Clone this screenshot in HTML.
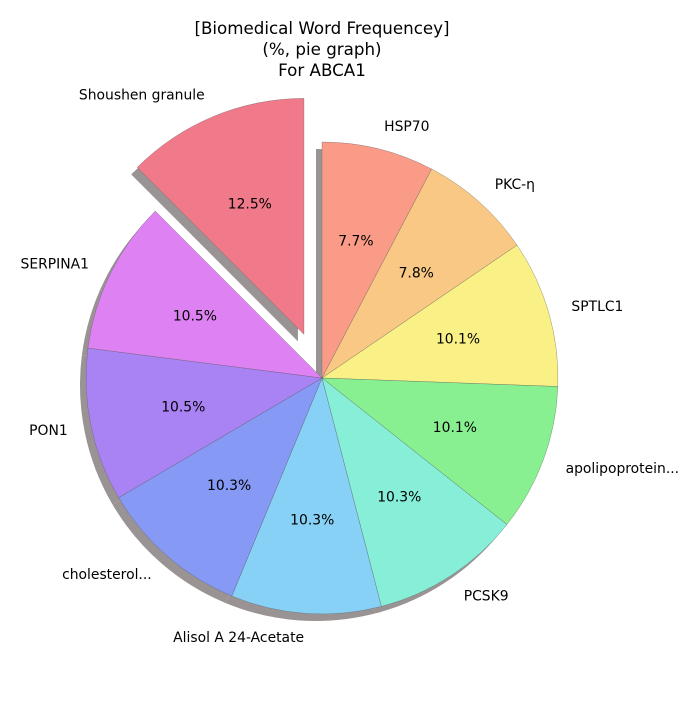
<!DOCTYPE html>
<html><head><meta charset="utf-8"><style>
body{margin:0;background:#fff}
svg text{font-family:"DejaVu Sans","Liberation Sans",sans-serif}
</style></head><body>
<svg id="chart" width="700" height="700">
<text x="322" y="34" font-size="16.7" text-anchor="middle">[Biomedical Word Frequencey]</text>
<text x="322" y="55" font-size="16.7" text-anchor="middle">(%, pie graph)</text>
<text x="322" y="76" font-size="16.7" text-anchor="middle">For ABCA1</text>
<g id="shadows"></g><g id="slices"></g><g id="labels"></g>
</svg>
<script>
const categories=["HSP70","PKC-η","SPTLC1","apolipoprotein...","PCSK9","Alisol A 24-Acetate","cholesterol...","PON1","SERPINA1","Shoushen granule"];
const values=[7.7,7.8,10.1,10.1,10.3,10.3,10.3,10.5,10.5,12.5];
const explode=[0,0,0,0,0,0,0,0,0,0.2];
const colors=["#f99b86","#f8c884","#f9f185","#88f090","#87eed8","#87d0f6","#8599f5","#a983f3","#de82f3","#f07a8a"];
const cx=322,cy=378,R=236,NS="http://www.w3.org/2000/svg";
const total=values.reduce((a,b)=>a+b,0);
const sh=document.getElementById('shadows'),sl=document.getElementById('slices'),lb=document.getElementById('labels');
function pt(x,y,r,a){return [x+r*Math.cos(a),y-r*Math.sin(a)];}
let ang=Math.PI/2;
values.forEach((v,i)=>{
  const sweep=v/total*2*Math.PI, a0=ang, a1=ang-sweep, mid=(a0+a1)/2;
  ang=a1;
  const [ox,oy]=pt(cx,cy,explode[i]*R,mid);
  const p0=pt(ox,oy,R,a0),p1=pt(ox,oy,R,a1);
  const large=sweep>Math.PI?1:0;
  const d=`M${ox},${oy}L${p0[0]},${p0[1]}A${R},${R} 0 ${large} 1 ${p1[0]},${p1[1]}Z`;
  const s=document.createElementNS(NS,'path');
  s.setAttribute('d',d);s.setAttribute('fill','#9a9393');s.setAttribute('transform','translate(-6,7)');
  
  
  sh.appendChild(s);
  const p=document.createElementNS(NS,'path');
  p.setAttribute('d',d);p.setAttribute('fill',colors[i]);p.setAttribute('stroke','#555');p.setAttribute('stroke-width','0.3');
  
  
  sl.appendChild(p);
  const [tx,ty]=pt(ox,oy,R*0.6,mid);
  const t=document.createElementNS(NS,'text');
  t.setAttribute('x',tx);t.setAttribute('y',ty+5);t.setAttribute('font-size','13.9');t.setAttribute('text-anchor','middle');
  t.textContent=v.toFixed(1)+'%';
  
  
  lb.appendChild(t);
  const [lx,ly]=pt(ox,oy,R*1.1,mid);
  const l=document.createElementNS(NS,'text');
  l.setAttribute('x',lx);l.setAttribute('y',ly+5);l.setAttribute('font-size','13.9');
  l.setAttribute('text-anchor',Math.cos(mid)>=0?'start':'end');
  l.textContent=categories[i];
  
  
  lb.appendChild(l);
});
</script>
</body></html>
